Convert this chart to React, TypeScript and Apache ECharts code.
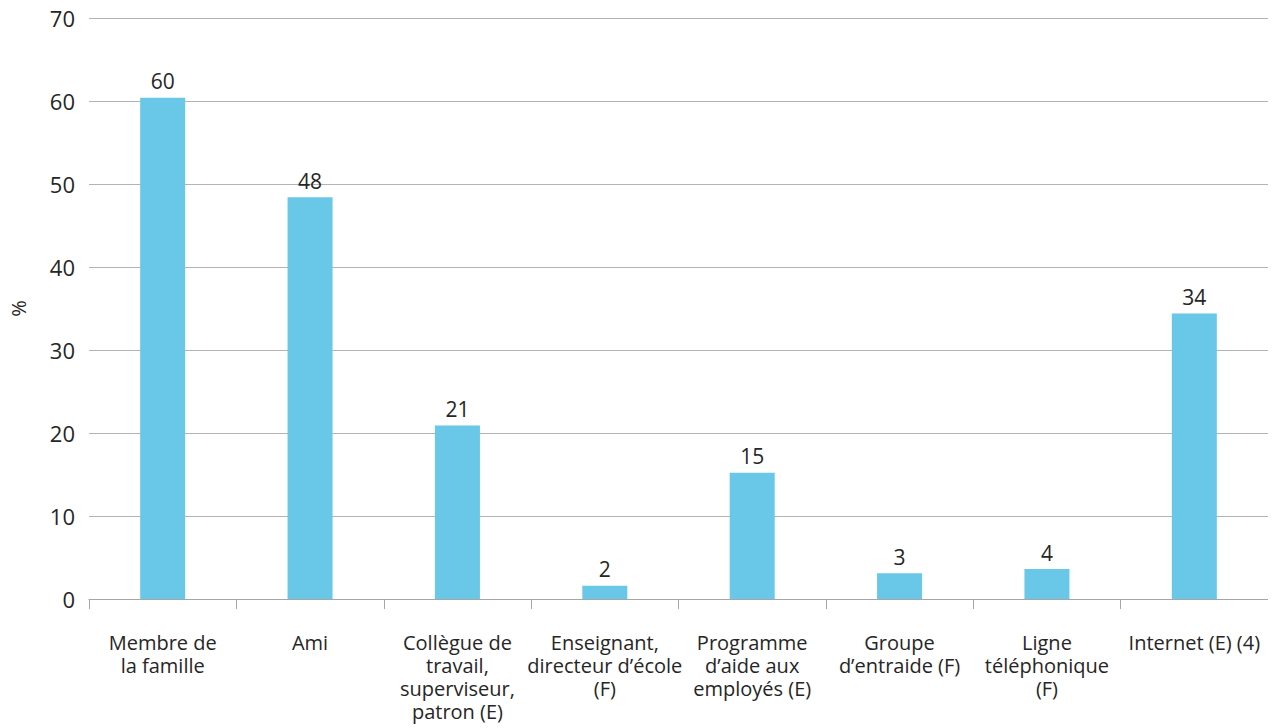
import React, { useEffect, useRef } from "react";
import * as echarts from "echarts";

const categories = [
  "Membre de\nla famille",
  "Ami",
  "Collègue de\ntravail,\nsuperviseur,\npatron (E)",
  "Enseignant,\ndirecteur d’école\n(F)",
  "Programme\nd’aide aux\nemployés (E)",
  "Groupe\nd’entraide (F)",
  "Ligne\ntéléphonique\n(F)",
  "Internet (E) (4)",
];
const values = [60.4, 48.4, 20.9, 1.6, 15.2, 3.1, 3.6, 34.4];
const valueLabels = ["60", "48", "21", "2", "15", "3", "4", "34"];
const yMin = 0;
const yMax = 70;
const yInterval = 10;
const yName = "%";

const FONT = "'Open Sans', 'Noto Sans', sans-serif";

export default function App() {
  const ref = useRef<HTMLDivElement>(null);
  useEffect(() => {
    if (!ref.current) return;
    const chart = echarts.init(ref.current, undefined, { renderer: "svg" });
    chart.setOption({
      animation: false,
      textStyle: { fontFamily: FONT },
      grid: {
        left: 81,
        right: 8,
        top: 10,
        bottom: 129,
        containLabel: false,
        outerBoundsMode: "none",
      },
      xAxis: {
        type: "category",
        data: categories,
        axisLine: { show: true, lineStyle: { color: "#a6a6a6", width: 1 } },
        axisTick: { show: true, length: 10, lineStyle: { color: "#a6a6a6" } },
        axisLabel: {
          interval: 0,
          margin: 32,
          fontSize: 20,
          lineHeight: 23,
          color: "#262626",
          fontFamily: FONT,
        },
      },
      yAxis: {
        type: "value",
        min: yMin,
        max: yMax,
        interval: yInterval,
        name: yName,
        nameLocation: "middle",
        nameGap: 61,
        nameTextStyle: { fontSize: 20, color: "#262626", fontFamily: FONT },
        axisLine: { show: false },
        axisTick: { show: false },
        axisLabel: { fontSize: 22, color: "#262626", margin: 14, fontFamily: FONT },
        splitLine: { lineStyle: { color: "#b3b3b3", width: 1 } },
      },
      series: [
        {
          type: "bar",
          data: values,
          barWidth: 45,
          itemStyle: { color: "#69c7e7" },
          label: {
            show: true,
            position: "top",
            distance: 6,
            fontSize: 21,
            color: "#262626",
            fontFamily: FONT,
            formatter: (p: any) => valueLabels[p.dataIndex],
          },
        },
      ],
    });
    return () => chart.dispose();
  }, []);
  return <div ref={ref} style={{ width: 1268, height: 720 }} />;
}
